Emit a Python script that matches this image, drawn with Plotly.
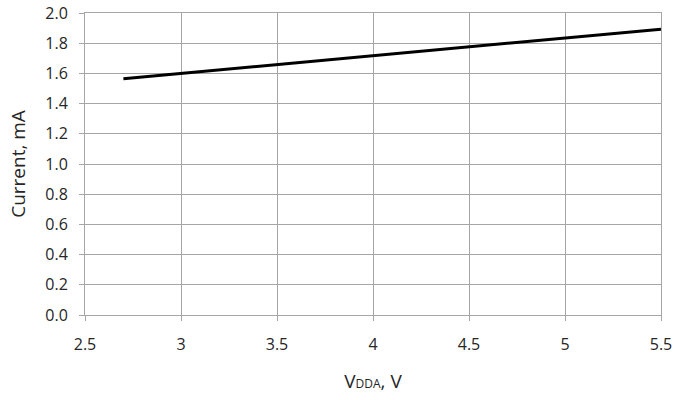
import plotly.graph_objects as go

# supply voltage VDDA (V) and current (mA)
vdda = [2.7, 3.0, 3.5, 4.0, 4.5, 5.0, 5.5]
current = [1.565, 1.60, 1.658, 1.716, 1.774, 1.834, 1.893]

x_ticks = [2.5, 3, 3.5, 4, 4.5, 5, 5.5]
y_ticks = [0.0, 0.2, 0.4, 0.6, 0.8, 1.0, 1.2, 1.4, 1.6, 1.8, 2.0]

grid = '#a6a6a6'
font = dict(family='Open Sans, Liberation Sans, sans-serif', size=16, color='#262626')

fig = go.Figure()
fig.add_trace(go.Scatter(
    x=vdda, y=current, mode='lines',
    line=dict(color='black', width=3),
    showlegend=False
))

fig.update_layout(
    width=677, height=400,
    margin=dict(l=85, r=16, t=13, b=85),
    plot_bgcolor='white', paper_bgcolor='white',
    font=font,
    xaxis=dict(
        range=[2.5, 5.5], tickvals=x_ticks, ticktext=[f"{v:g}" for v in x_ticks],
        showgrid=True, gridcolor=grid, gridwidth=1,
        showline=True, linecolor=grid, mirror=True,
        ticks='outside', ticklen=5, tickcolor=grid,
        ticklabelstandoff=10,
        zeroline=False, automargin=False,
        title=dict(text="V<span style='font-size:12px'>DDA</span>, V", standoff=20),
    ),
    yaxis=dict(
        range=[0, 2.0], tickvals=y_ticks, tickformat='.1f',
        showgrid=True, gridcolor=grid, gridwidth=1,
        showline=True, linecolor=grid, mirror=True,
        ticks='outside', ticklen=5, tickcolor=grid,
        ticklabelstandoff=8,
        zeroline=False, automargin=False,
        title=dict(text='Current, mA', standoff=14),
    ),
)

fig.write_html("out.html", config={'displayModeBar': False},
               post_script="document.body.style.margin='0';")
